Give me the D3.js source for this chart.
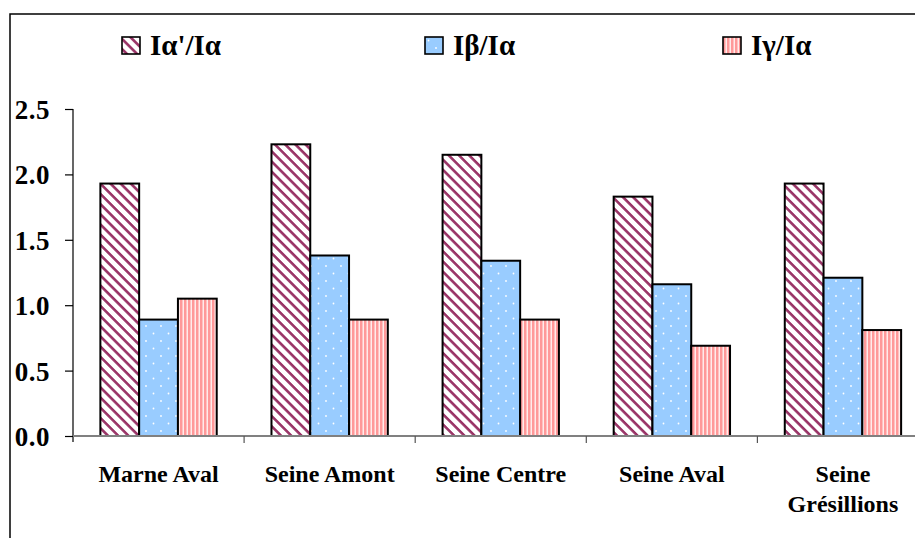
<!DOCTYPE html>
<html><head><meta charset="utf-8">
<script src="https://cdn.jsdelivr.net/npm/d3@7"></script>
<style>
html,body{margin:0;padding:0;background:#fff;overflow:hidden}
svg{display:block}
text{font-family:"Liberation Serif","Times New Roman",serif;font-weight:bold;fill:#000}
</style></head>
<body>
<script>
const categories = ["Marne Aval", "Seine Amont", "Seine Centre", "Seine Aval", "Seine Grésillions"];
const seriesNames = ["Iα'/Iα", "Iβ/Iα", "Iγ/Iα"];
const alphaPrime = [1.93, 2.23, 2.15, 1.83, 1.93];
const beta = [0.89, 1.38, 1.34, 1.16, 1.21];
const gamma = [1.05, 0.89, 0.89, 0.69, 0.81];
const yTicks = [0, 0.5, 1.0, 1.5, 2.0, 2.5];

const W = 915, H = 538;
const svg = d3.select("body").append("svg").attr("width", W).attr("height", H);
const defs = svg.append("defs");

// diagonal stripes
const p1 = defs.append("pattern").attr("id", "pDiag").attr("patternUnits", "userSpaceOnUse")
  .attr("width", 7.2).attr("height", 7.2).attr("patternTransform", "rotate(45)");
p1.append("rect").attr("width", 7.2).attr("height", 7.2).attr("fill", "#fff");
p1.append("rect").attr("y", 0).attr("width", 7.2).attr("height", 2.6).attr("fill", "#993366");

// dots on light blue
const p2 = defs.append("pattern").attr("id", "pDots").attr("patternUnits", "userSpaceOnUse")
  .attr("width", 15).attr("height", 15);
p2.append("rect").attr("width", 15).attr("height", 15).attr("fill", "#99CCFF");
p2.append("circle").attr("cx", 3.5).attr("cy", 3.5).attr("r", 0.9).attr("fill", "#fff");
p2.append("circle").attr("cx", 11).attr("cy", 11).attr("r", 0.9).attr("fill", "#fff");

// vertical stripes pink
const p3 = defs.append("pattern").attr("id", "pVert").attr("patternUnits", "userSpaceOnUse")
  .attr("width", 4).attr("height", 4);
p3.append("rect").attr("width", 4).attr("height", 4).attr("fill", "#FF9999");
p3.append("rect").attr("x", 2.6).attr("width", 1.2).attr("height", 4).attr("fill", "#fff");

const fills = ["url(#pDiag)", "url(#pDots)", "url(#pVert)"];

// outer frame
svg.append("rect").attr("x", 10).attr("y", 14).attr("width", 920).attr("height", 540)
  .attr("fill", "none").attr("stroke", "#000").attr("stroke-width", 1.5);

const x0 = 73, x1 = 73 + 5 * 171.1;
const y = d3.scaleLinear().domain([0, 2.5]).range([436, 109]);
const x = d3.scaleBand().domain(categories).range([x0, x1]).paddingInner(0.32).paddingOuter(0.16);
const xs = d3.scaleBand().domain(seriesNames).range([0, x.bandwidth()]);

const values = [alphaPrime, beta, gamma];
const rows = [];
categories.forEach((c, i) => seriesNames.forEach((s, j) => rows.push({c, s, j, v: values[j][i]})));

// y axis
const yAxis = d3.axisLeft(y).tickValues(yTicks).tickFormat(d3.format(".1f")).tickSize(8).tickSizeOuter(0);
const gy = svg.append("g").attr("transform", `translate(${x0},0)`).call(yAxis);
gy.select(".domain").attr("stroke", "#000").attr("stroke-width", 1.2).attr("d", `M0,${y(2.5)}V${y(0) + 6}`);
gy.selectAll(".tick line").attr("stroke", "#000").attr("stroke-width", 1.2);
gy.selectAll(".tick text").attr("x", -23).attr("font-size", 27).attr("font-family", "Liberation Serif")
  .attr("font-weight", "bold").attr("fill", "#000").attr("dy", "0.35em").attr("letter-spacing", 0.5);

// bars
svg.append("g").selectAll("rect").data(rows).join("rect")
  .attr("x", d => x(d.c) + xs(d.s))
  .attr("y", d => y(d.v))
  .attr("width", xs.bandwidth())
  .attr("height", d => y(0) - y(d.v))
  .attr("fill", d => fills[d.j])
  .attr("stroke", "#000").attr("stroke-width", 2);

// x axis
const gx = svg.append("g").attr("transform", `translate(0,${y(0)})`);
gx.append("line").attr("x1", x0).attr("x2", x1).attr("stroke", "#808080").attr("stroke-width", 2);
const step = x.step();
gx.selectAll("line.tk").data(d3.range(1, categories.length + 1)).join("line").attr("class", "tk")
  .attr("x1", d => x0 + d * step).attr("x2", d => x0 + d * step)
  .attr("y1", 0).attr("y2", 7).attr("stroke", "#555").attr("stroke-width", 1.2);

// category labels with wrapping
const lab = svg.append("g");
categories.forEach(c => {
  const cx = x(c) + x.bandwidth() / 2;
  const t = lab.append("text").attr("x", cx).attr("y", 482).attr("text-anchor", "middle")
    .attr("font-size", 24).text(c);
  if (t.node().getComputedTextLength() > step - 20) {
    t.text(null);
    c.split(" ").forEach((w, k) => t.append("tspan").attr("x", cx).attr("y", 482 + k * 30).text(w));
  }
});

// legend
const legendX = [122, 425, 723];
seriesNames.forEach((s, j) => {
  const g = svg.append("g").attr("transform", `translate(${legendX[j]},37)`);
  g.append("rect").attr("width", 18).attr("height", 17).attr("fill", fills[j])
    .attr("stroke", "#000").attr("stroke-width", 1.6);
  g.append("text").attr("x", 28).attr("y", 18).attr("font-size", 29).text(s);
});
</script>
</body></html>
